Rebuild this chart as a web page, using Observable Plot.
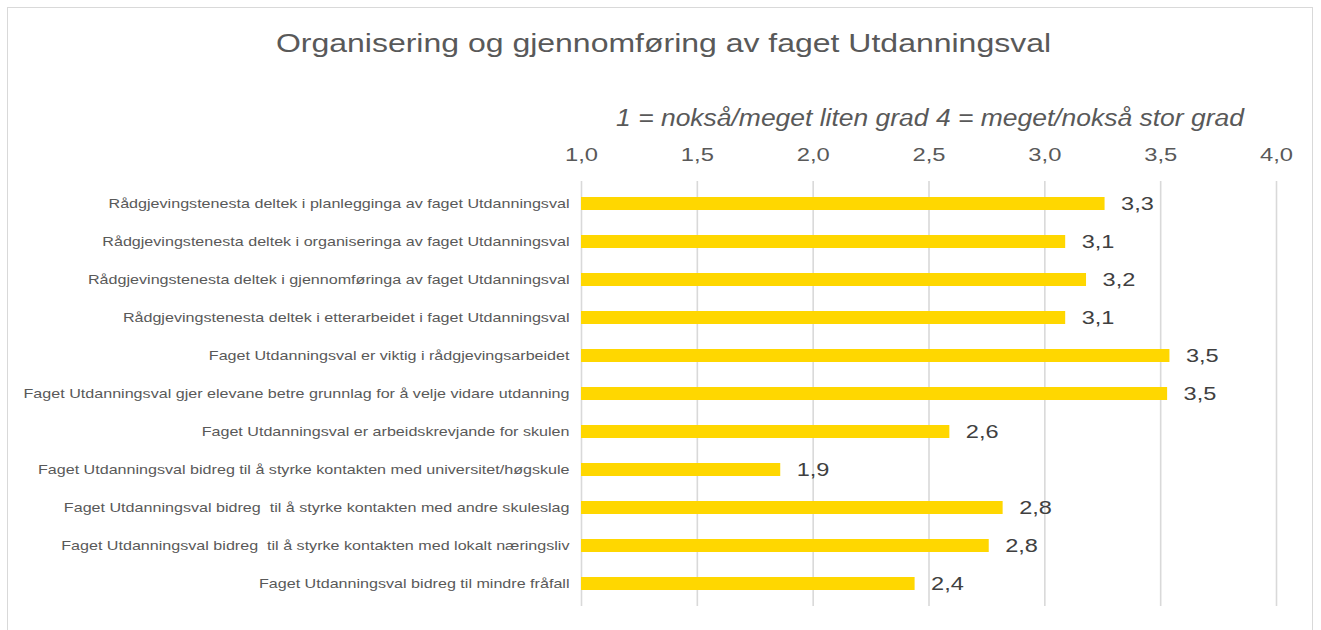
<!DOCTYPE html>
<html>
<head>
<meta charset="utf-8">
<script src="https://cdn.jsdelivr.net/npm/d3@7"></script>
<script src="https://cdn.jsdelivr.net/npm/@observablehq/plot@0.6"></script>
<style>
  html, body { margin: 0; padding: 0; background: #fff; }
  #wrap { position: relative; width: 1321px; height: 630px; overflow: hidden; font-family: "Liberation Sans", Arial, sans-serif; }
  #border { position: absolute; left: 7px; top: 7px; width: 1306px; height: 700px; border: 1px solid #d9d9d9; box-sizing: border-box; }
  #title { position: absolute; left: 7px; width: 1313px; top: 30px; text-align: center; font-size: 26px; line-height: 1; color: #595959; white-space: nowrap; transform: scaleX(1.23); transform-origin: 50% 50%; }
  #subtitle { position: absolute; left: 581px; width: 698px; top: 106.5px; text-align: center; font-size: 23px; line-height: 1; font-style: italic; color: #595959; white-space: nowrap; transform: scaleX(1.15); transform-origin: 50% 50%; }
  #chart { position: absolute; left: 0; top: 130px; }
  #chart svg text { white-space: pre; }
</style>
</head>
<body>
<div id="wrap">
  <div id="border"></div>
  <div id="title">Organisering og gjennomføring av faget Utdanningsval</div>
  <div id="subtitle">1 = nokså/meget liten grad 4 = meget/nokså stor grad</div>
  <div id="chart"></div>
</div>
<script>
const categories = [
  "Rådgjevingstenesta deltek i planlegginga av faget Utdanningsval",
  "Rådgjevingstenesta deltek i organiseringa av faget Utdanningsval",
  "Rådgjevingstenesta deltek i gjennomføringa av faget Utdanningsval",
  "Rådgjevingstenesta deltek i etterarbeidet i faget Utdanningsval",
  "Faget Utdanningsval er viktig i rådgjevingsarbeidet",
  "Faget Utdanningsval gjer elevane betre grunnlag for å velje vidare utdanning",
  "Faget Utdanningsval er arbeidskrevjande for skulen",
  "Faget Utdanningsval bidreg til å styrke kontakten med universitet/høgskule",
  "Faget Utdanningsval bidreg  til å styrke kontakten med andre skuleslag",
  "Faget Utdanningsval bidreg  til å styrke kontakten med lokalt næringsliv",
  "Faget Utdanningsval bidreg til mindre fråfall"
];
const values = [3.26, 3.09, 3.18, 3.09, 3.54, 3.53, 2.59, 1.86, 2.82, 2.76, 2.44];
const xTicks = [1.0, 1.5, 2.0, 2.5, 3.0, 3.5, 4.0];

const data = categories.map((c, i) => ({category: c, value: values[i]}));
const fmt = v => d3.format(".1f")(v).replace(".", ",");
const xMin = xTicks[0];

const chart = Plot.plot({
  width: 1321,
  height: 500,
  marginTop: 51,
  marginBottom: 24,
  marginLeft: 581,
  marginRight: 45,
  style: { fontFamily: "Liberation Sans, Arial, sans-serif", background: "transparent" },
  x: { domain: [xTicks[0], xTicks[xTicks.length - 1]], axis: null },
  y: { domain: categories, paddingInner: 0.655, paddingOuter: 0.3275, axis: null },
  marks: [
    Plot.gridX(xTicks, { stroke: "#d9d9d9", strokeOpacity: 1, strokeWidth: 1.6 }),
    Plot.axisX(xTicks, { anchor: "top", tickSize: 0, tickPadding: 21, tickFormat: fmt, fontSize: 19, fill: "#595959", label: null, className: "xtick" }),
    Plot.axisY({ anchor: "left", tickSize: 0, tickPadding: 12, fontSize: 13, fill: "#595959", label: null, className: "ytick" }),
    Plot.barX(data, { y: "category", x1: () => xMin, x2: "value", fill: "#FFD700" }),
    Plot.text(data, { y: "category", x: "value", text: d => fmt(d.value), textAnchor: "start", dx: 16, dy: 0, fontSize: 19, fill: "#404040", className: "vlabel" })
  ]
});

// The reference's lettering is horizontally wider than its height implies; widen text glyphs.
function widen(sel, k) {
  chart.querySelectorAll(sel).forEach(t => {
    const tr = t.getAttribute("transform");
    if (tr) {
      t.setAttribute("transform", tr + ` scale(${k},1)`);
    } else {
      const x = +(t.getAttribute("x") || 0), y = +(t.getAttribute("y") || 0);
      t.removeAttribute("x"); t.removeAttribute("y");
      t.setAttribute("transform", `translate(${x},${y}) scale(${k},1)`);
    }
  });
}
widen(".xtick text", 1.25);
widen(".ytick text", 1.24);
widen(".vlabel text", 1.24);

document.getElementById("chart").appendChild(chart);
</script>
</body>
</html>
